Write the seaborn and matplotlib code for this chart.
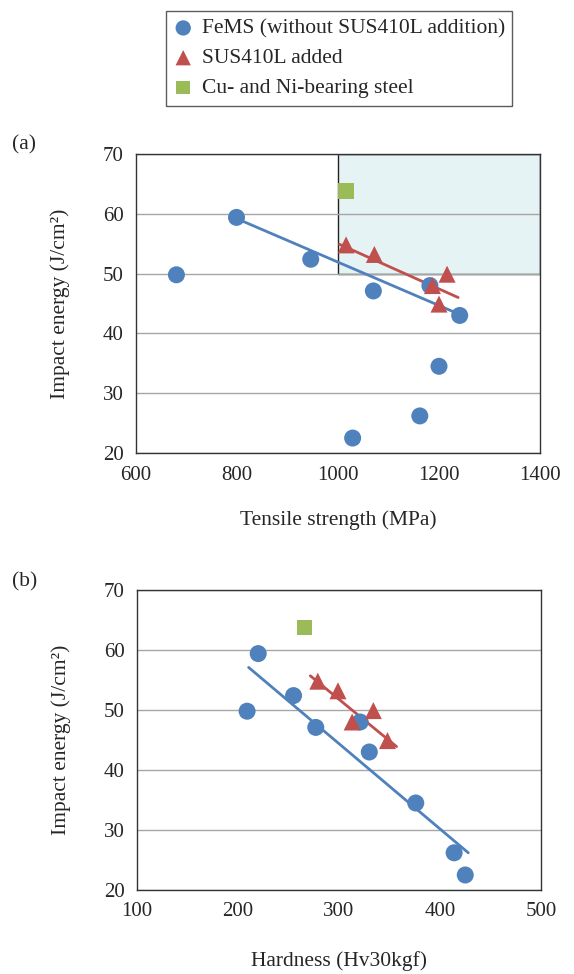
import pandas as pd
import seaborn as sns
import matplotlib.pyplot as plt
from matplotlib.patches import Rectangle
from matplotlib.ticker import MultipleLocator

# impact energy (J/cm2), shared by both panels
fems_ie = [49.8, 59.4, 52.4, 47.1, 48.0, 43.0, 34.5, 26.2, 22.5]
fems_ts = [680, 799, 946, 1070, 1182, 1241, 1200, 1162, 1029]
fems_hv = [209, 220, 255, 277, 321, 330, 376, 414, 425]

sus_ie = [54.8, 53.2, 48.0, 49.9, 44.9]
sus_ts = [1016, 1072, 1187, 1216, 1200]
sus_hv = [279, 299, 313, 334, 348]

cuni_ie = [63.8]
cuni_ts = [1016]
cuni_hv = [266]

# trend lines (endpoints)
fit_fems_ts = [802, 1232]
fit_fems_ts_ie = [59.1, 43.5]
fit_sus_ts = [1003, 1238]
fit_sus_ts_ie = [54.9, 46.0]
fit_fems_hv = [210.5, 428]
fit_fems_hv_ie = [57.1, 26.2]
fit_sus_hv = [271.6, 357]
fit_sus_hv_ie = [55.7, 43.9]

# target window in (a)
target_ts = [1000, 1400]
target_ie = [50, 70]

labels = ['FeMS (without SUS410L addition)', 'SUS410L added', 'Cu- and Ni-bearing steel']

sns.set_style('white')
plt.rcParams['font.family'] = ['Liberation Serif', 'DejaVu Serif']

BLUE = '#4F81BD'
RED = '#C0504D'
GREEN = '#9BBB59'

fig = plt.figure(figsize=(5.74, 9.74), dpi=100)
ax1 = fig.add_axes([136 / 574, 1 - 453 / 974, 404 / 574, 299 / 974])
ax2 = fig.add_axes([137 / 574, 1 - 890 / 974, 404 / 574, 300 / 974])


def panel(ax, fx, sx, cx, ffx, ffy, fsx, fsy):
    fems = pd.DataFrame({'x': fx, 'y': fems_ie})
    sus = pd.DataFrame({'x': sx, 'y': sus_ie})
    cuni = pd.DataFrame({'x': cx, 'y': cuni_ie})
    sns.lineplot(x=ffx, y=ffy, ax=ax, color=BLUE, lw=2, zorder=3)
    sns.lineplot(x=fsx, y=fsy, ax=ax, color=RED, lw=2, zorder=3)
    sns.scatterplot(data=fems, x='x', y='y', ax=ax, marker='o', s=150,
                    color=BLUE, edgecolor='none', label=labels[0], zorder=4)
    sns.scatterplot(data=sus, x='x', y='y', ax=ax, marker='^', s=150,
                    color=RED, edgecolor='none', label=labels[1], zorder=5)
    sns.scatterplot(data=cuni, x='x', y='y', ax=ax, marker='s', s=120,
                    color=GREEN, edgecolor='none', label=labels[2], zorder=4)
    ax.set_ylim(20, 70)
    ax.yaxis.set_major_locator(MultipleLocator(10))
    ax.yaxis.set_minor_locator(MultipleLocator(5))
    ax.grid(axis='y', color='#a6a6a6', lw=1.0)
    ax.set_axisbelow(True)
    for sp in ax.spines.values():
        sp.set_color('#333333')
        sp.set_linewidth(1.0)
    ax.tick_params(which='both', direction='in', length=3.5, width=0.9,
                   color='#333333', labelsize=15, pad=9)
    ax.set_ylabel('Impact energy (J/cm²)', fontsize=15.5)
    ax.yaxis.set_label_coords(-0.163, 0.5)
    ax.get_legend().remove()


panel(ax1, fems_ts, sus_ts, cuni_ts, fit_fems_ts, fit_fems_ts_ie, fit_sus_ts, fit_sus_ts_ie)
ax1.add_patch(Rectangle((target_ts[0], target_ie[0]), target_ts[1] - target_ts[0],
                        target_ie[1] - target_ie[0], facecolor='#E6F3F5',
                        edgecolor='#222222', lw=1.0, zorder=0.3))
ax1.set_xlim(600, 1400)
ax1.xaxis.set_major_locator(MultipleLocator(200))
ax1.xaxis.set_minor_locator(MultipleLocator(100))
ax1.set_xlabel('Tensile strength (MPa)', fontsize=15.5)
ax1.xaxis.set_label_coords(0.5, -0.192)

panel(ax2, fems_hv, sus_hv, cuni_hv, fit_fems_hv, fit_fems_hv_ie, fit_sus_hv, fit_sus_hv_ie)
ax2.set_xlim(100, 500)
ax2.xaxis.set_major_locator(MultipleLocator(100))
ax2.xaxis.set_minor_locator(MultipleLocator(50))
ax2.set_xlabel('Hardness (Hv30kgf)', fontsize=15.5)
ax2.xaxis.set_label_coords(0.5, -0.205)

fig.text(12 / 574, 1 - 145 / 974, '(a)', fontsize=15.5, va='center')
fig.text(12 / 574, 1 - 582 / 974, '(b)', fontsize=15.5, va='center')

handles, labs = ax1.get_legend_handles_labels()
leg = fig.legend(handles, labs, loc='upper left', bbox_to_anchor=(166 / 574, 1 - 11 / 974),
                 fontsize=15.5, frameon=True, fancybox=False, handlelength=0.9,
                 handletextpad=0.4, borderpad=0.35, labelspacing=0.45, borderaxespad=0,
                 markerscale=0.9)
leg.get_frame().set_edgecolor('#333333')
leg.get_frame().set_linewidth(1.0)

fig.savefig('out.png', dpi=100)
